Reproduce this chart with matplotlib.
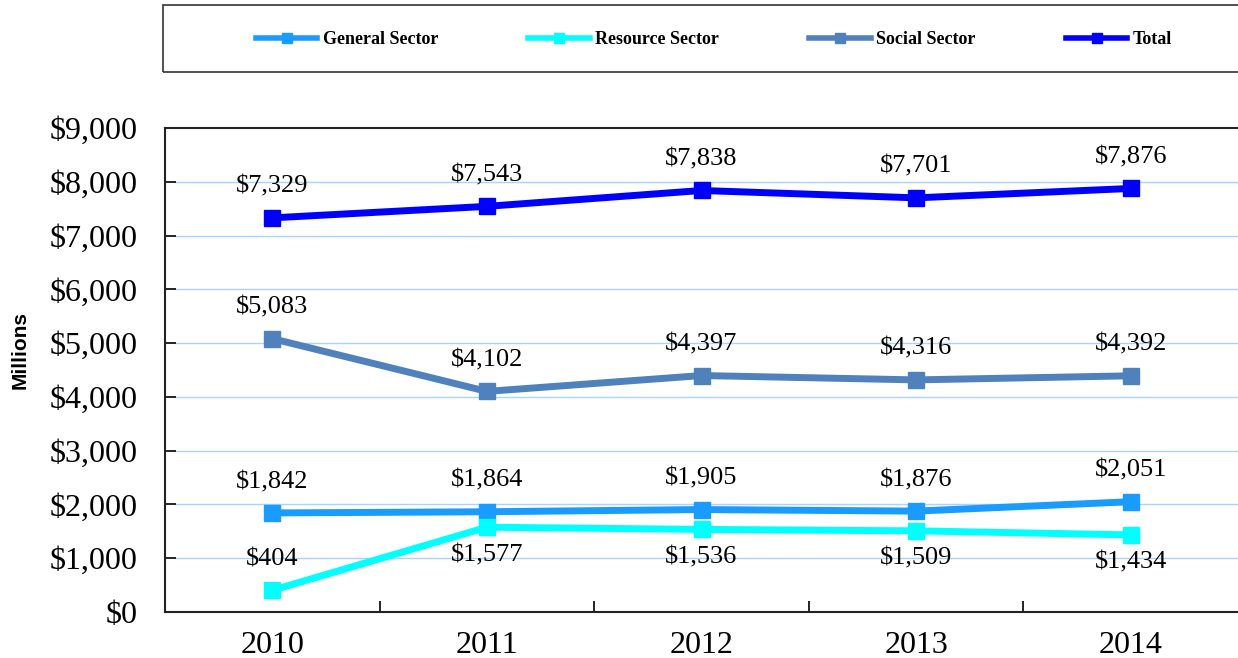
from matplotlib import pyplot as plt
from matplotlib.lines import Line2D
from matplotlib.patches import Rectangle
from matplotlib.ticker import FuncFormatter

years = ["2010", "2011", "2012", "2013", "2014"]
general = [1842, 1864, 1905, 1876, 2051]
resource = [404, 1577, 1536, 1509, 1434]
social = [5083, 4102, 4397, 4316, 4392]
total = [7329, 7543, 7838, 7701, 7876]

series_names = ["General Sector", "Resource Sector", "Social Sector", "Total"]
colors = ["#1a9bff", "#00ffff", "#4f81bd", "#0000ff"]
# label above (+) or below (-) each point
label_side = [
    [1, 1, 1, 1, 1],
    [1, -1, -1, -1, -1],
    [1, 1, 1, 1, 1],
    [1, 1, 1, 1, 1],
]

plt.rcParams['font.family'] = ['Liberation Serif', 'DejaVu Serif']

fig = plt.figure(figsize=(12.38, 6.58), dpi=100)
ax = fig.add_axes([165 / 1238, 1 - 612 / 658, 1 - 165 / 1238, (612 - 128) / 658])

x = list(range(len(years)))
data = [general, resource, social, total]
for vals, col, sides in zip(data, colors, label_side):
    ax.plot(x, vals, color=col, lw=5, marker='s', markersize=12,
            solid_joinstyle='miter', zorder=3)
    for xi, v, s in zip(x, vals, sides):
        off = 31 if s > 0 else -28
        ax.annotate(f"${v:,}", (xi, v), xytext=(0, off), textcoords='offset pixels',
                    ha='center', va='center', fontsize=19, zorder=4)

ax.set_xlim(-0.5, 4.5)
ax.set_ylim(0, 9000)
ax.set_yticks(range(0, 9001, 1000))
ax.yaxis.set_major_formatter(FuncFormatter(lambda v, p: f"${int(v):,}"))
ax.set_xticks(x)
ax.set_xticklabels(years)
ax.set_xticks([0.5, 1.5, 2.5, 3.5], minor=True)
ax.tick_params(axis='x', which='major', length=0, pad=14, labelsize=23)
ax.tick_params(axis='x', which='minor', direction='in', length=8, width=1.2)
ax.tick_params(axis='y', direction='in', length=8, width=1.2, pad=20, labelsize=23)

for y in range(1000, 9000, 1000):
    ax.axhline(y, color='#a8d4ff', lw=1, zorder=1, xmin=0.009)

ax.spines['right'].set_visible(False)
for sp in ['top', 'left', 'bottom']:
    ax.spines[sp].set_color('#222222')
    ax.spines[sp].set_linewidth(1.5)

fig.text(20 / 1238, 1 - 350 / 658, "Millions", rotation=90, ha='center', va='center',
         fontsize=15, fontweight='bold', family='Liberation Sans')

# legend box
fig.patches.append(Rectangle((163 / 1238, 1 - 72 / 658), 1.0, 67 / 658,
                             transform=fig.transFigure, fill=False,
                             edgecolor='#333333', lw=1.2))
handles = [Line2D([0], [0], color=c, lw=4, marker='s', markersize=7) for c in colors]
fig.legend(handles, series_names, loc='center', bbox_to_anchor=(714 / 1238, 1 - 40 / 658),
           ncol=4, frameon=False, handlelength=3.4, columnspacing=5.0, handletextpad=0.3,
           prop={'weight': 'bold', 'size': 13})

fig.savefig("out.png", dpi=100)
